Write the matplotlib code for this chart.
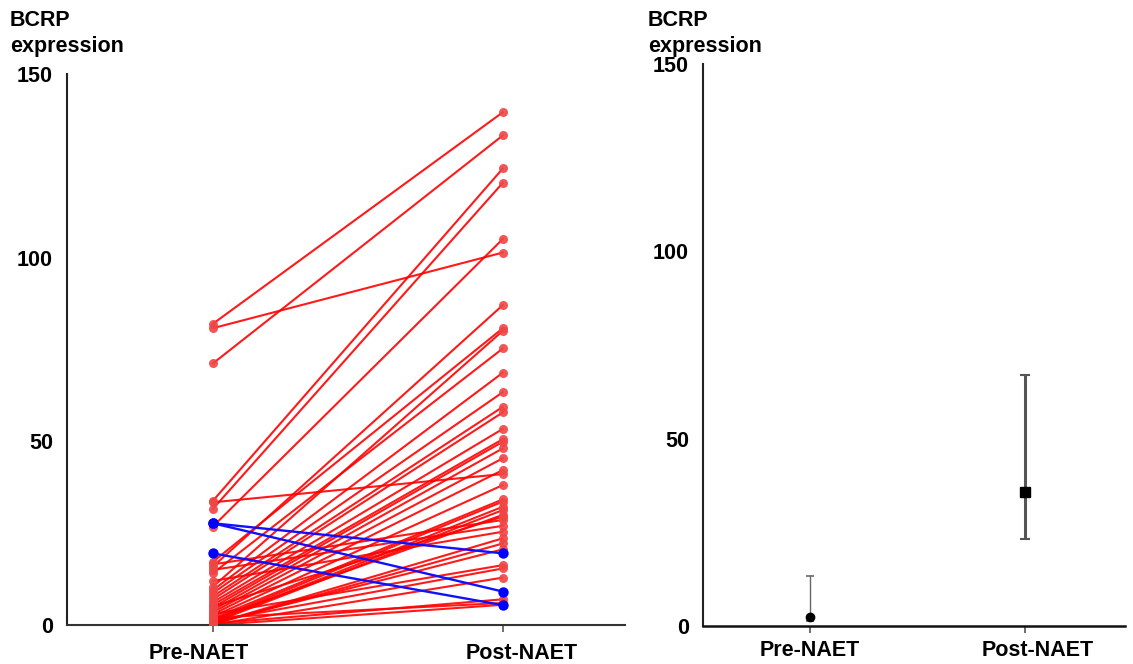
import matplotlib
matplotlib.use("Agg")
import matplotlib.pyplot as plt
from matplotlib.transforms import ScaledTranslation

plt.rcParams['font.family'] = ['Liberation Sans', 'DejaVu Sans']

# ---------------- data ----------------
groups = ["Pre-NAET", "Post-NAET"]
y_label = "BCRP\nexpression"
y_ticks = [0, 50, 100, 150]

# paired patients, BCRP increased (red)
pre_up = [82.0, 80.8, 71.2, 33.8, 33.4, 31.6, 26.8, 17.2, 15.9, 14.1,
          10.4, 9.5, 8.7, 7.8, 7.0, 6.2, 5.5, 4.8, 4.1, 3.5,
          2.9, 2.3, 1.8, 1.3, 0.9, 0.6, 16.5, 15.0, 12.0, 0.3,
          0.2, 0.5, 3.0, 1.0, 0.1, 0.4, 2.0, 0.0, 1.5, 5.0]
post_up = [139.6, 101.4, 133.3, 124.3, 41.1, 120.4, 105.1, 80.8, 87.1, 75.3,
           80.1, 68.7, 63.4, 59.4, 57.9, 53.4, 50.6, 49.9, 48.1, 45.4,
           42.2, 38.1, 34.2, 33.6, 32.2, 31.3, 28.6, 27.0, 25.4, 23.6,
           22.2, 20.6, 16.3, 15.4, 12.9, 7.0, 6.0, 5.5, 30.0, 29.5]

# paired patients, BCRP decreased (blue)
pre_down = [27.7, 27.7, 19.5]
post_down = [19.5, 9.1, 5.4]

# summary (right panel)
summary_center = [2.3, 35.8]
summary_low = [1.4, 23.1]
summary_high = [13.4, 67.1]

# ---------------- figure ----------------
W, H = 1133, 664
fig = plt.figure(figsize=(W / 100, H / 100), dpi=100)

FS = 15.5

# ---- left panel ----
ax1 = fig.add_axes([67 / W, (H - 625) / H, (625 - 67) / W, (625 - 74) / H])
xpos = [0, 1]
for a, b in zip(pre_up, post_up):
    ax1.plot(xpos, [a, b], color="#ff0000", lw=1.5, alpha=0.9, zorder=2,
             solid_capstyle="round")
    ax1.plot(xpos, [a, b], ls="none", marker="o", ms=6.5, color="#f04545",
             alpha=0.9, zorder=3, markeredgewidth=0)
for a, b in zip(pre_down, post_down):
    ax1.plot(xpos, [a, b], color="#1010ff", lw=1.7, zorder=4)
    ax1.plot(xpos, [a, b], ls="none", marker="o", ms=7.5, color="#0000ff",
             zorder=5, markeredgewidth=0)

ax1.set_xlim(-0.503, 1.421)
ax1.set_ylim(0, 150)

# ---- right panel ----
ax2 = fig.add_axes([703 / W, (H - 626) / H, (1125 - 703) / W, (626 - 64) / H])
styles = [dict(marker="o", ms=6, lw=1.0, ecolor="#666666", capsize=3, capthick=1.2),
          dict(marker="s", ms=7.5, lw=2.2, ecolor="#555555", capsize=3.5, capthick=1.5)]
for i in range(2):
    c = summary_center[i]
    err = [[c - summary_low[i]], [summary_high[i] - c]]
    st = styles[i]
    ax2.errorbar([xpos[i]], [c], yerr=err, fmt=st["marker"], ms=st["ms"],
                 color="black", ecolor=st["ecolor"], elinewidth=st["lw"],
                 capsize=st["capsize"], capthick=st["capthick"], zorder=3)
ax2.set_xlim(-0.498, 1.465)
ax2.set_ylim(0, 150)

# ---- styling ----
for ax, xpad in ((ax1, 8), (ax2, 5)):
    ax.spines["top"].set_visible(False)
    ax.spines["right"].set_visible(False)
    ax.spines["left"].set_linewidth(1.5)
    ax.spines["left"].set_color("#222222")
    ax.set_yticks(y_ticks)
    ax.set_yticklabels([str(t) for t in y_ticks], fontsize=FS, fontweight="bold")
    ax.tick_params(axis="y", which="major", length=0, pad=10)
    ax.set_yticks([150], minor=True)
    ax.tick_params(axis="y", which="minor", length=4, width=1.5, color="#222222")
    ax.set_xticks(xpos)
    ax.set_xticklabels(groups, fontsize=FS, fontweight="bold")
    ax.tick_params(axis="x", length=5, width=1.2, color="#555555", pad=xpad)
    for spine in ax.spines.values():
        spine.set_clip_on(False)

ax1.spines["bottom"].set_linestyle((0, (1.5, 1)))
ax1.spines["bottom"].set_linewidth(1.5)
ax1.spines["bottom"].set_color("#333333")
ax2.spines["bottom"].set_linewidth(1.8)
ax2.spines["bottom"].set_color("#111111")

# offsets of category labels as in the reference
for ax, offs in ((ax1, [-14, 19]), (ax2, [0, 13])):
    for lab, dx in zip(ax.get_xticklabels(), offs):
        lab.set_transform(lab.get_transform() + ScaledTranslation(dx / 100, 0, fig.dpi_scale_trans))

# axis titles
fig.text(10 / W, 1 - 10 / H, y_label, ha="left", va="top", fontsize=FS,
         fontweight="bold", linespacing=1.3)
fig.text(648 / W, 1 - 10 / H, y_label, ha="left", va="top", fontsize=FS,
         fontweight="bold", linespacing=1.3)

fig.savefig("out.png", dpi=100)
